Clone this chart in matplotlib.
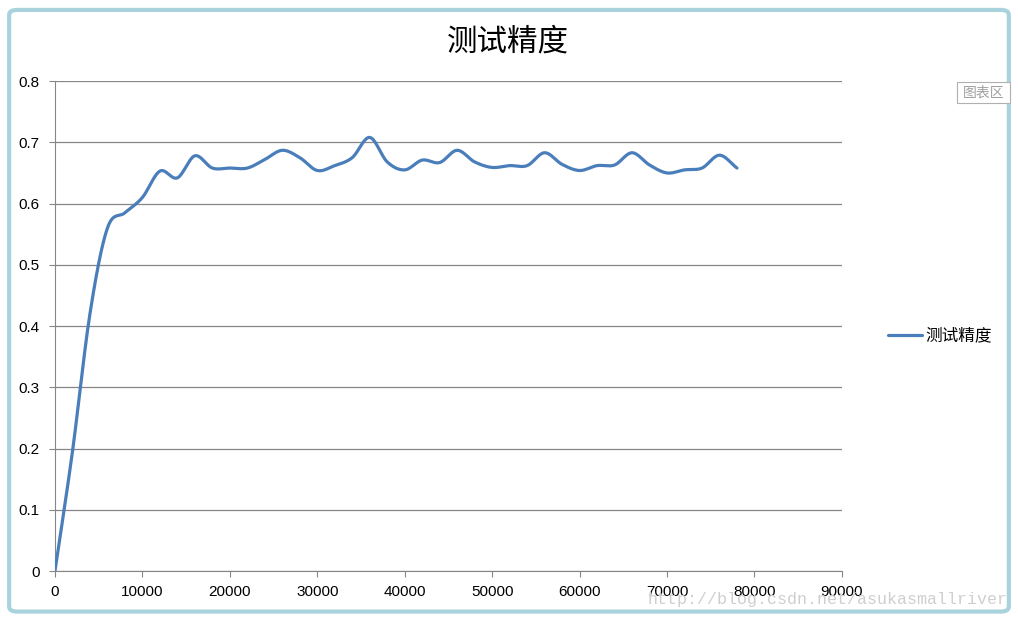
import numpy as np
import matplotlib.pyplot as plt
from matplotlib.patches import FancyBboxPatch, Rectangle

plt.rcParams['font.family'] = ['Noto Sans CJK SC', 'DejaVu Sans']

steps = np.arange(0, 80000, 2000)
accuracy = [0.0, 0.195, 0.42, 0.56, 0.585, 0.61, 0.653, 0.642, 0.678, 0.658,
            0.658, 0.658, 0.672, 0.687, 0.675, 0.654, 0.662, 0.675, 0.708, 0.668,
            0.655, 0.671, 0.667, 0.687, 0.668, 0.659, 0.662, 0.662, 0.683, 0.664,
            0.654, 0.662, 0.663, 0.683, 0.663, 0.650, 0.655, 0.658, 0.679, 0.658]
series_name = '测试精度'
x_ticks = np.arange(0, 90001, 10000)
y_ticks = np.arange(0, 0.81, 0.1)


def smooth(xs, ys, n=20):
    # Catmull-Rom spline, close to Excel's "smoothed line"
    xs = np.asarray(xs, float)
    ys = np.asarray(ys, float)
    px = np.concatenate([[2 * xs[0] - xs[1]], xs, [2 * xs[-1] - xs[-2]]])
    py = np.concatenate([[2 * ys[0] - ys[1]], ys, [2 * ys[-1] - ys[-2]]])
    out_x, out_y = [], []
    t = np.linspace(0, 1, n, endpoint=False)
    for i in range(1, len(px) - 2):
        for p, out in ((px, out_x), (py, out_y)):
            p0, p1, p2, p3 = p[i - 1], p[i], p[i + 1], p[i + 2]
            out.extend(0.5 * (2 * p1 + (-p0 + p2) * t
                              + (2 * p0 - 5 * p1 + 4 * p2 - p3) * t ** 2
                              + (-p0 + 3 * p1 - 3 * p2 + p3) * t ** 3))
    out_x.append(xs[-1])
    out_y.append(ys[-1])
    return np.array(out_x), np.array(out_y)


fig = plt.figure(figsize=(10.18, 6.19), dpi=100)

# excel-like chart frame
frame = FancyBboxPatch((0.009, 0.012), 0.982, 0.972, boxstyle='round,pad=0,rounding_size=0.008',
                       transform=fig.transFigure, facecolor='none', edgecolor='#a9d3dc',
                       linewidth=3, zorder=0)
fig.patches.append(frame)

ax = fig.add_axes([0.054, 0.0775, 0.773, 0.7915])
ax.patch.set_alpha(0)
sx, sy = smooth(steps, accuracy)
ax.plot(sx, sy, color='#4a7ebb', linewidth=2.3, label=series_name,
        solid_capstyle='round', zorder=3)

ax.set_xlim(0, 90000)
ax.set_ylim(0, 0.8)
ax.set_xticks(x_ticks)
ax.set_yticks(y_ticks)
ax.set_xticklabels([str(v) for v in x_ticks])
ax.set_yticklabels(['0' if v == 0 else f'{v:.1f}' for v in y_ticks])
ax.grid(axis='y', color='#868686', linewidth=0.9)
ax.set_axisbelow(True)
for side in ('top', 'right'):
    ax.spines[side].set_visible(False)
for side in ('left', 'bottom'):
    ax.spines[side].set_color('#868686')
ax.tick_params(colors='#868686', length=4, labelcolor='black', labelsize=11,
               direction='out')
ax.tick_params(axis='y', pad=7)
ax.tick_params(axis='x', pad=6)
for lbl in ax.get_xticklabels() + ax.get_yticklabels():
    lbl.set_family(['Liberation Sans', 'DejaVu Sans'])

fig.text(0.499, 0.932, series_name, ha='center', va='center', fontsize=22)

ax.legend(loc='center left', bbox_to_anchor=(1.04, 0.48), frameon=False,
          fontsize=12, handlelength=2.0, handletextpad=0.2)

# "图表区" hover tag
fig.patches.append(Rectangle((0.940, 0.833), 0.052, 0.034, transform=fig.transFigure,
                             facecolor='white', edgecolor='#b0b0b0', linewidth=0.8))
fig.text(0.966, 0.85, '图表区', ha='center', va='center', fontsize=10, color='#a0a0a0')

fig.text(0.813, 0.031, 'http://blog.csdn.net/asukasmallriver', ha='center', va='center',
         fontsize=12, color='#cfcfcf', family=['Liberation Mono', 'DejaVu Sans Mono'],
         zorder=5)

fig.savefig('out.png', dpi=100)
